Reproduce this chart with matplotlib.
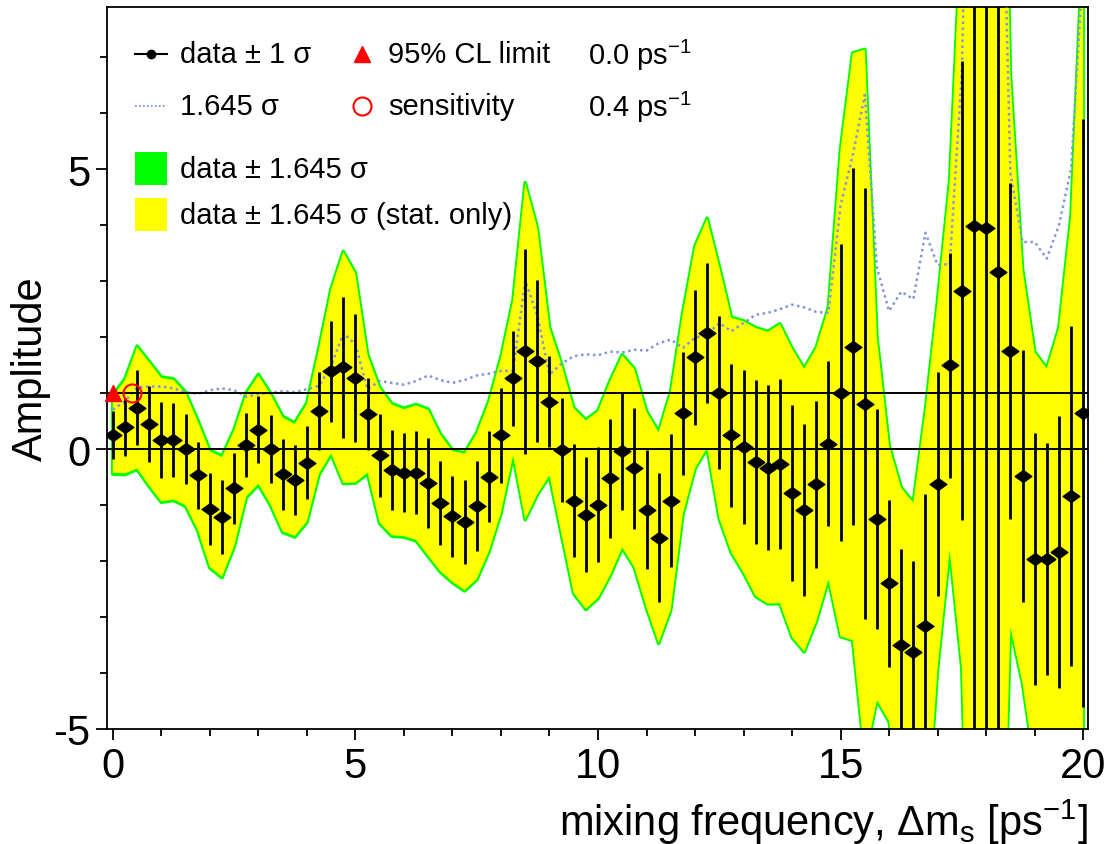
import numpy as np
import matplotlib
matplotlib.use("Agg")
import matplotlib.pyplot as plt
import matplotlib.patches as patches
from matplotlib.path import Path
from matplotlib.ticker import MultipleLocator

plt.rcParams['font.family'] = ['Liberation Sans', 'DejaVu Sans']
plt.rcParams['mathtext.fontset'] = 'custom'
plt.rcParams['mathtext.rm'] = 'Liberation Sans'
plt.rcParams['mathtext.it'] = 'Liberation Sans'
plt.rcParams['axes.unicode_minus'] = False

# amplitude scan, one point every 0.25 ps^-1
freq = np.arange(81) * 0.25
amp = [0.26, 0.40, 0.74, 0.45, 0.17, 0.17, 0.00, -0.47, -1.07, -1.21, -0.70, 0.07, 0.35, 0.00, -0.45, -0.55,
       -0.24, 0.68, 1.39, 1.46, 1.27, 0.63, -0.11, -0.37, -0.42, -0.42, -0.60, -0.96, -1.20, -1.30, -1.02, -0.49,
       0.25, 1.27, 1.75, 1.57, 0.85, -0.01, -0.92, -1.17, -0.99, -0.52, -0.04, -0.34, -1.08, -1.58, -0.92, 0.64,
       1.64, 2.07, 1.01, 0.25, 0.04, -0.23, -0.33, -0.26, -0.78, -1.09, -0.63, 0.10, 1.01, 1.83, 0.81, -1.25,
       -2.40, -3.50, -3.63, -3.16, -0.63, 1.50, 2.83, 3.99, 3.95, 3.16, 1.75, -0.48, -1.96, -1.96, -1.83, -0.84,
       0.64]
sigma = [0.43, 0.52, 0.67, 0.68, 0.68, 0.66, 0.62, 0.60, 0.64, 0.66, 0.64, 0.57, 0.60, 0.61, 0.63, 0.62,
         0.65, 0.69, 0.90, 1.26, 1.14, 0.65, 0.74, 0.72, 0.70, 0.74, 0.80, 0.75, 0.72, 0.75, 0.80, 0.82,
         0.85, 0.85, 1.83, 1.45, 0.81, 0.93, 1.01, 1.03, 1.02, 1.06, 1.05, 1.08, 1.07, 1.15, 1.19, 1.10,
         1.21, 1.25, 1.37, 1.28, 1.37, 1.46, 1.48, 1.52, 1.57, 1.54, 1.49, 1.48, 2.65, 3.19, 3.85, 1.97,
         1.50, 1.71, 1.63, 2.35, 2.00, 2.01, 4.10, 10.0, 10.0, 8.50, 3.00, 2.25, 2.25, 2.07, 2.43, 3.04,
         5.25]
sigma_syst = 0.12
cl_limit = 0.0
sensitivity = 0.4

amp = np.array(amp)
sigma = np.array(sigma)
sigma_stat = np.sqrt(sigma**2 - sigma_syst**2)

fig = plt.figure(figsize=(11.06, 8.45), dpi=100)
ax = fig.add_axes([107/1106, 1 - 730/845, 981/1106, 722/845])

green = '#00ff00'
yellow = '#ffff00'
dotted_col = '#8595d5'

ax.fill_between(freq, amp - 1.645*sigma, amp + 1.645*sigma, facecolor=green,
                edgecolor=green, linewidth=2.6, zorder=1)
ax.fill_between(freq, amp - 1.645*sigma_stat, amp + 1.645*sigma_stat, facecolor=yellow,
                linewidth=0, zorder=2)
ax.plot(freq, 1.645*sigma, linestyle=(0, (1, 1.4)), color=dotted_col, lw=1.8, zorder=3)
ax.axhline(0, color='black', lw=1.4, zorder=4)
ax.axhline(1, color='black', lw=1.4, zorder=4)

diamond = Path([(-1, 0), (0, 0.72), (1, 0), (0, -0.72), (-1, 0)],
               [Path.MOVETO, Path.LINETO, Path.LINETO, Path.LINETO, Path.CLOSEPOLY])
ax.errorbar(freq, amp, yerr=sigma, fmt='none', ecolor='black', elinewidth=2.0, zorder=5)
ax.plot(freq, amp, linestyle='none', marker=diamond, ms=12, color='black', zorder=6)

ax.plot([cl_limit], [1], marker='^', ms=11, color='red', mec='red', linestyle='none',
        zorder=7, clip_on=False)
ax.plot([sensitivity], [1], marker='o', ms=13, mfc='none', mec='red', mew=1.5,
        linestyle='none', zorder=7)

ax.set_xlim(-0.12, 20.1)
ax.set_ylim(-5, 7.9)
ax.xaxis.set_major_locator(MultipleLocator(5))
ax.xaxis.set_minor_locator(MultipleLocator(1))
ax.yaxis.set_major_locator(MultipleLocator(5))
ax.yaxis.set_minor_locator(MultipleLocator(1))
ax.tick_params(which='both', direction='out', width=1.3, labelsize=30, top=False, right=False)
ax.tick_params(which='major', length=8, pad=4)
ax.tick_params(which='minor', length=5)
for sp in ax.spines.values():
    sp.set_linewidth(1.3)

ax.set_xlabel('mixing frequency, Δm$_{s}$ [ps$^{-1}$]', fontsize=30, loc='right', labelpad=8)
ax.set_ylabel('Amplitude', fontsize=30, labelpad=2)


# legend drawn by hand, in pixel positions of the axes box
def pos(px, py):
    return ((px - 107) / 981, (730 - py) / 722)


tr = ax.transAxes
fs = 21
ax.plot(*zip(pos(135, 55), pos(167, 55)), color='black', lw=1.5, transform=tr, clip_on=False, zorder=8)
ax.plot(*pos(151, 55), marker='o', ms=6, color='black', transform=tr, clip_on=False, zorder=8)
ax.text(*pos(180, 55), 'data ± 1 σ', fontsize=fs, va='center', transform=tr)
ax.plot(*pos(362, 55), marker='^', ms=12, color='red', transform=tr, clip_on=False, zorder=8)
ax.text(*pos(388, 55), '95% CL limit', fontsize=fs, va='center', transform=tr)
ax.text(*pos(588, 55), '%.1f ps$^{-1}$' % cl_limit, fontsize=fs, va='center', transform=tr)

ax.plot(*zip(pos(135, 107), pos(167, 107)), color=dotted_col, lw=1.3, linestyle=(0, (1, 1.2)),
        transform=tr, clip_on=False, zorder=8)
ax.text(*pos(180, 107), '1.645 σ', fontsize=fs, va='center', transform=tr)
ax.plot(*pos(362, 107), marker='o', ms=13, mfc='none', mec='red', mew=1.5, transform=tr,
        clip_on=False, zorder=8)
ax.text(*pos(388, 107), 'sensitivity', fontsize=fs, va='center', transform=tr)
ax.text(*pos(588, 107), '%.1f ps$^{-1}$' % sensitivity, fontsize=fs, va='center', transform=tr)

x0, y0 = pos(135, 186)
ax.add_patch(patches.Rectangle((x0, y0), 32/981, 33/722, facecolor=green, edgecolor='none',
                               transform=tr, zorder=8))
ax.text(*pos(180, 170), 'data ± 1.645 σ', fontsize=fs, va='center', transform=tr)
x0, y0 = pos(135, 232)
ax.add_patch(patches.Rectangle((x0, y0), 32/981, 33/722, facecolor=yellow, edgecolor='none',
                               transform=tr, zorder=8))
ax.text(*pos(180, 216), 'data ± 1.645 σ (stat. only)', fontsize=fs, va='center', transform=tr,
        zorder=9)

fig.savefig('out.png', dpi=100)
